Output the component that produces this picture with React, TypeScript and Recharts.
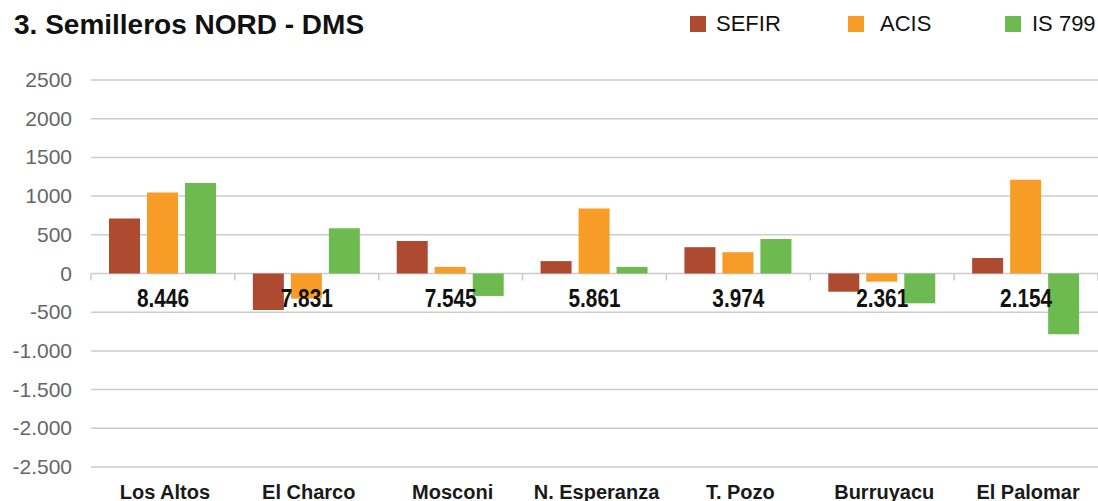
import React from 'react';
import {
  BarChart,
  Bar,
  XAxis,
  YAxis,
  CartesianGrid,
  ReferenceDot
} from 'recharts';

const categories = ['Los Altos', 'El Charco', 'Mosconi', 'N. Esperanza', 'T. Pozo', 'Burruyacu', 'El Palomar'];
const sefir = [710, -470, 420, 160, 340, -235, 200];
const acis = [1045, -325, 85, 840, 275, -105, 1210];
const is799 = [1170, 585, -290, 85, 445, -385, -785];
const totals = ['8.446', '7.831', '7.545', '5.861', '3.974', '2.361', '2.154'];

const yTicks = [-2500, -2000, -1500, -1000, -500, 0, 500, 1000, 1500, 2000, 2500];
const yTickLabels = ['-2.500', '-2.000', '-1.500', '-1.000', '-500', '0', '500', '1000', '1500', '2000', '2500'];

const series = [
  { key: 'sefir', name: 'SEFIR', color: '#AD4A30' },
  { key: 'acis', name: 'ACIS', color: '#F79C26' },
  { key: 'is799', name: 'IS 799', color: '#6DBA50' }
];

const chartData = categories.map((name, i) => ({
  name,
  sefir: sefir[i],
  acis: acis[i],
  is799: is799[i],
  total: totals[i]
}));

const FONT = '"Liberation Sans", Arial, Helvetica, sans-serif';
const WIDTH = 1098;
const HEIGHT = 501;
const MARGIN = { top: 80, right: 0, left: 0, bottom: 0 };
const Y_WIDTH = 91;
const X_HEIGHT = 34;
const BAND = (WIDTH - Y_WIDTH - MARGIN.right) / categories.length;

const CategoryTick = (props: any) => {
  const { x, y, payload } = props;
  return (
    <text
      x={x + 2}
      y={y + 32}
      textAnchor="middle"
      fontFamily={FONT}
      fontSize={20}
      fontWeight="bold"
      fill="#1a1a1a"
    >
      {payload.value}
    </text>
  );
};

const YTick = (props: any) => {
  const { x, y, payload } = props;
  const idx = yTicks.indexOf(payload.value);
  return (
    <text
      x={x}
      y={y + 7}
      textAnchor="end"
      fontFamily={FONT}
      fontSize={21}
      fill="#666"
    >
      {yTickLabels[idx]}
    </text>
  );
};

const totalShape = (label: string, first: boolean) => (props: any) => {
  const { cx, cy } = props;
  return (
    <g>
      {first && <line x1={cx - BAND / 2} y1={cy} x2={cx - BAND / 2} y2={cy + 7} stroke="#c8c8c8" strokeWidth={1.5} />}
      <line x1={cx + BAND / 2} y1={cy} x2={cx + BAND / 2} y2={cy + 7} stroke="#c8c8c8" strokeWidth={1.5} />
      <text
        transform={`translate(${cx}, ${cy + 33}) scale(0.8, 1)`}
        textAnchor="middle"
        fontFamily={FONT}
        fontSize={26}
        fontWeight="bold"
        fill="#111"
      >
        {label}
      </text>
    </g>
  );
};

const legendPos = [
  { box: 690, text: 716 },
  { box: 848, text: 880 },
  { box: 1005, text: 1032 }
];

export default function App() {
  return (
    <div
      style={{
        position: 'absolute',
        left: 0,
        top: 0,
        width: WIDTH,
        height: HEIGHT,
        background: '#fff',
        fontFamily: FONT,
        overflow: 'hidden'
      }}
    >
      <div
        style={{
          position: 'absolute',
          left: 14,
          top: 11,
          fontSize: 28,
          lineHeight: '28px',
          fontWeight: 'bold',
          color: '#111',
          whiteSpace: 'nowrap'
        }}
      >
        3. Semilleros NORD - DMS
      </div>

      {series.map((s, i) => (
        <React.Fragment key={s.key}>
          <div
            style={{
              position: 'absolute',
              left: legendPos[i].box,
              top: 16,
              width: 16,
              height: 16,
              background: s.color
            }}
          />
          <div
            style={{
              position: 'absolute',
              left: legendPos[i].text,
              top: 13,
              fontSize: 22,
              lineHeight: '22px',
              color: '#111',
              whiteSpace: 'nowrap'
            }}
          >
            {s.name}
          </div>
        </React.Fragment>
      ))}

      <BarChart
        width={WIDTH}
        height={HEIGHT}
        data={chartData}
        margin={MARGIN}
        barSize={31}
        barGap={7}
      >
        <CartesianGrid vertical={false} stroke="#cccccc" strokeWidth={1.5} />
        <XAxis
          dataKey="name"
          axisLine={false}
          tickLine={false}
          tickSize={0}
          tickMargin={0}
          height={X_HEIGHT}
          interval={0}
          tick={<CategoryTick />}
        />
        <YAxis
          domain={[-2500, 2500]}
          ticks={yTicks}
          interval={0}
          axisLine={false}
          tickLine={false}
          tickSize={0}
          tickMargin={19}
          width={Y_WIDTH}
          tick={<YTick />}
        />
        {series.map((s) => (
          <Bar key={s.key} dataKey={s.key} name={s.name} fill={s.color} isAnimationActive={false} />
        ))}
        {chartData.map((d, i) => (
          <ReferenceDot
            key={d.name}
            x={d.name}
            y={0}
            r={0}
            ifOverflow="visible"
            shape={totalShape(d.total, i === 0)}
          />
        ))}
      </BarChart>
    </div>
  );
}
